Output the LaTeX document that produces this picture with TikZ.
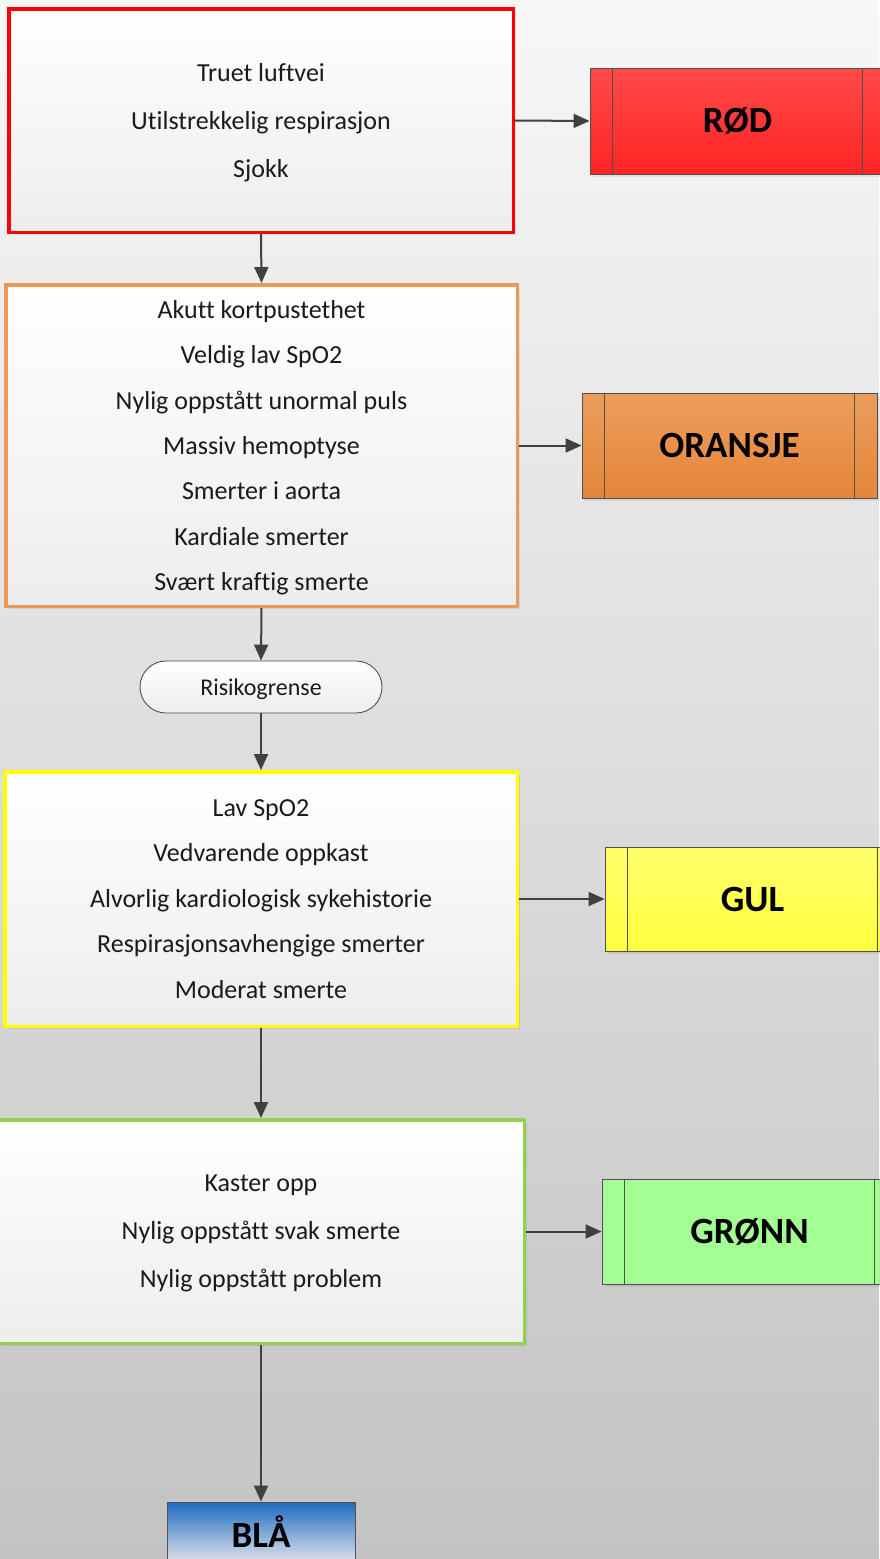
\documentclass[tikz,border=0pt]{standalone}
\usepackage{fontspec}
\setmainfont{Carlito}[Ligatures={NoCommon}]
\usetikzlibrary{arrows.meta,shadows,shapes.misc}

\definecolor{bgtop}{HTML}{F7F7F7}
\definecolor{bgbot}{HTML}{C3C3C3}
\definecolor{boxbot}{HTML}{EDEDED}
\definecolor{linkcol}{HTML}{404040}
\definecolor{procline}{HTML}{505050}
\definecolor{redline}{HTML}{FF0000}
\definecolor{orangeline}{HTML}{EE9955}
\definecolor{yellowline}{HTML}{FFFF00}
\definecolor{greenline}{HTML}{92D050}
\definecolor{redtop}{HTML}{FF4A4A}
\definecolor{redbot}{HTML}{FF2424}
\definecolor{oratop}{HTML}{EC9D5C}
\definecolor{orabot}{HTML}{E5853A}
\definecolor{yeltop}{HTML}{FFFF6A}
\definecolor{yelbot}{HTML}{FFFF40}
\definecolor{grnfill}{HTML}{A3FF93}
\definecolor{bluetop}{HTML}{1E6CC0}
\definecolor{bluemid}{HTML}{9CB4DE}
\definecolor{bluebot}{HTML}{E6E6EC}
\definecolor{textcol}{HTML}{1A1A1A}

\begin{document}
\begin{tikzpicture}[x=1pt,y=-1pt,
  critbox/.style={draw, line width=3.5pt, top color=white, bottom color=boxbot,
    align=center, inner sep=0pt, text=textcol, text depth=0pt,
    drop shadow={shadow xshift=3pt,shadow yshift=-3pt,fill=black,opacity=0.07}},
  procbox/.style={draw=procline, line width=0.9pt, minimum width=295pt,
    inner sep=0pt, text=black, font=\fontsize{37}{40}\bfseries\selectfont,
    drop shadow={shadow xshift=3pt,shadow yshift=-3pt,fill=black,opacity=0.07}},
  arr/.style={draw=linkcol, line width=2pt,
    -{Triangle[length=16pt,width=14pt]}}]

\useasboundingbox (0,0) rectangle (879,1559);
\shade[top color=bgtop, bottom color=bgbot] (0,0) rectangle (879,1559);

% criteria boxes
\node[critbox, draw=redline, minimum width=504.5pt, minimum height=223.5pt,
  font=\fontsize{26}{48}\selectfont] (t1) at (261,120.5)
  {Truet luftvei\\Utilstrekkelig respirasjon\\Sjokk};

\node[critbox, draw=orangeline, minimum width=511.5pt, minimum height=321.5pt,
  font=\fontsize{26}{45.3}\selectfont] (t2) at (261.5,445.5)
  {Akutt kortpustethet\\Veldig lav SpO2\\Nylig oppstått unormal puls\\Massiv hemoptyse\\Smerter i aorta\\Kardiale smerter\\Svært kraftig smerte};

\node[draw=procline, line width=0.9pt, rounded rectangle, top color=white,
  bottom color=boxbot, minimum width=242pt, minimum height=52pt, inner sep=0pt,
  text=textcol, text depth=0pt, font=\fontsize{24}{26}\selectfont] (risk) at (261,687)
  {Risikogrense};

\node[critbox, draw=yellowline, minimum width=512.5pt, minimum height=254.5pt,
  font=\fontsize{26}{45.5}\selectfont] (t3) at (261,899)
  {Lav SpO2\\Vedvarende oppkast\\Alvorlig kardiologisk sykehistorie\\Respirasjonsavhengige smerter\\Moderat smerte};

\node[critbox, draw=greenline, minimum width=526.5pt, minimum height=223.5pt,
  font=\fontsize{26}{48}\selectfont] (t4) at (261,1231.5)
  {Kaster opp\\Nylig oppstått svak smerte\\Nylig oppstått problem};

% triage levels
\node[procbox, top color=redtop, bottom color=redbot, minimum height=106pt]
  (rod) at (737.5,121) {RØD};
\node[procbox, top color=oratop, bottom color=orabot, minimum height=105pt]
  (oransje) at (729.5,445.5) {ORANSJE};
\node[procbox, top color=yeltop, bottom color=yelbot, minimum height=104pt]
  (gul) at (752.5,899) {GUL};
\node[procbox, fill=grnfill, minimum height=105pt]
  (gronn) at (749.5,1231.5) {GRØNN};
\node[draw=procline, line width=0.9pt, minimum width=188pt, minimum height=62pt,
  inner sep=0pt, text=black, font=\fontsize{37}{40}\bfseries\selectfont,
  shading=axis, top color=bluetop, middle color=bluemid, bottom color=bluebot]
  (bla) at (261,1533) {\raisebox{0pt}[28pt][0pt]{BLÅ}};

% side bars of the process shapes
\foreach \n in {rod,oransje,gul,gronn}{
  \draw[procline, line width=0.9pt] ([xshift=23pt]\n.north west) -- ([xshift=23pt]\n.south west);
  \draw[procline, line width=0.9pt] ([xshift=-23pt]\n.north east) -- ([xshift=-23pt]\n.south east);
}

% connectors
\draw[arr] (t1.east) -- (rod.west);
\draw[arr] (t2.east) -- (oransje.west);
\draw[arr] (t3.east) -- (gul.west);
\draw[arr] (t4.east) -- (gronn.west);
\draw[arr] (t1.south) -- (t2.north);
\draw[arr] (t2.south) -- (risk.north);
\draw[arr] (risk.south) -- (t3.north);
\draw[arr] (t3.south) -- (t4.north);
\draw[arr] (t4.south) -- (bla.north);
\end{tikzpicture}
\end{document}
